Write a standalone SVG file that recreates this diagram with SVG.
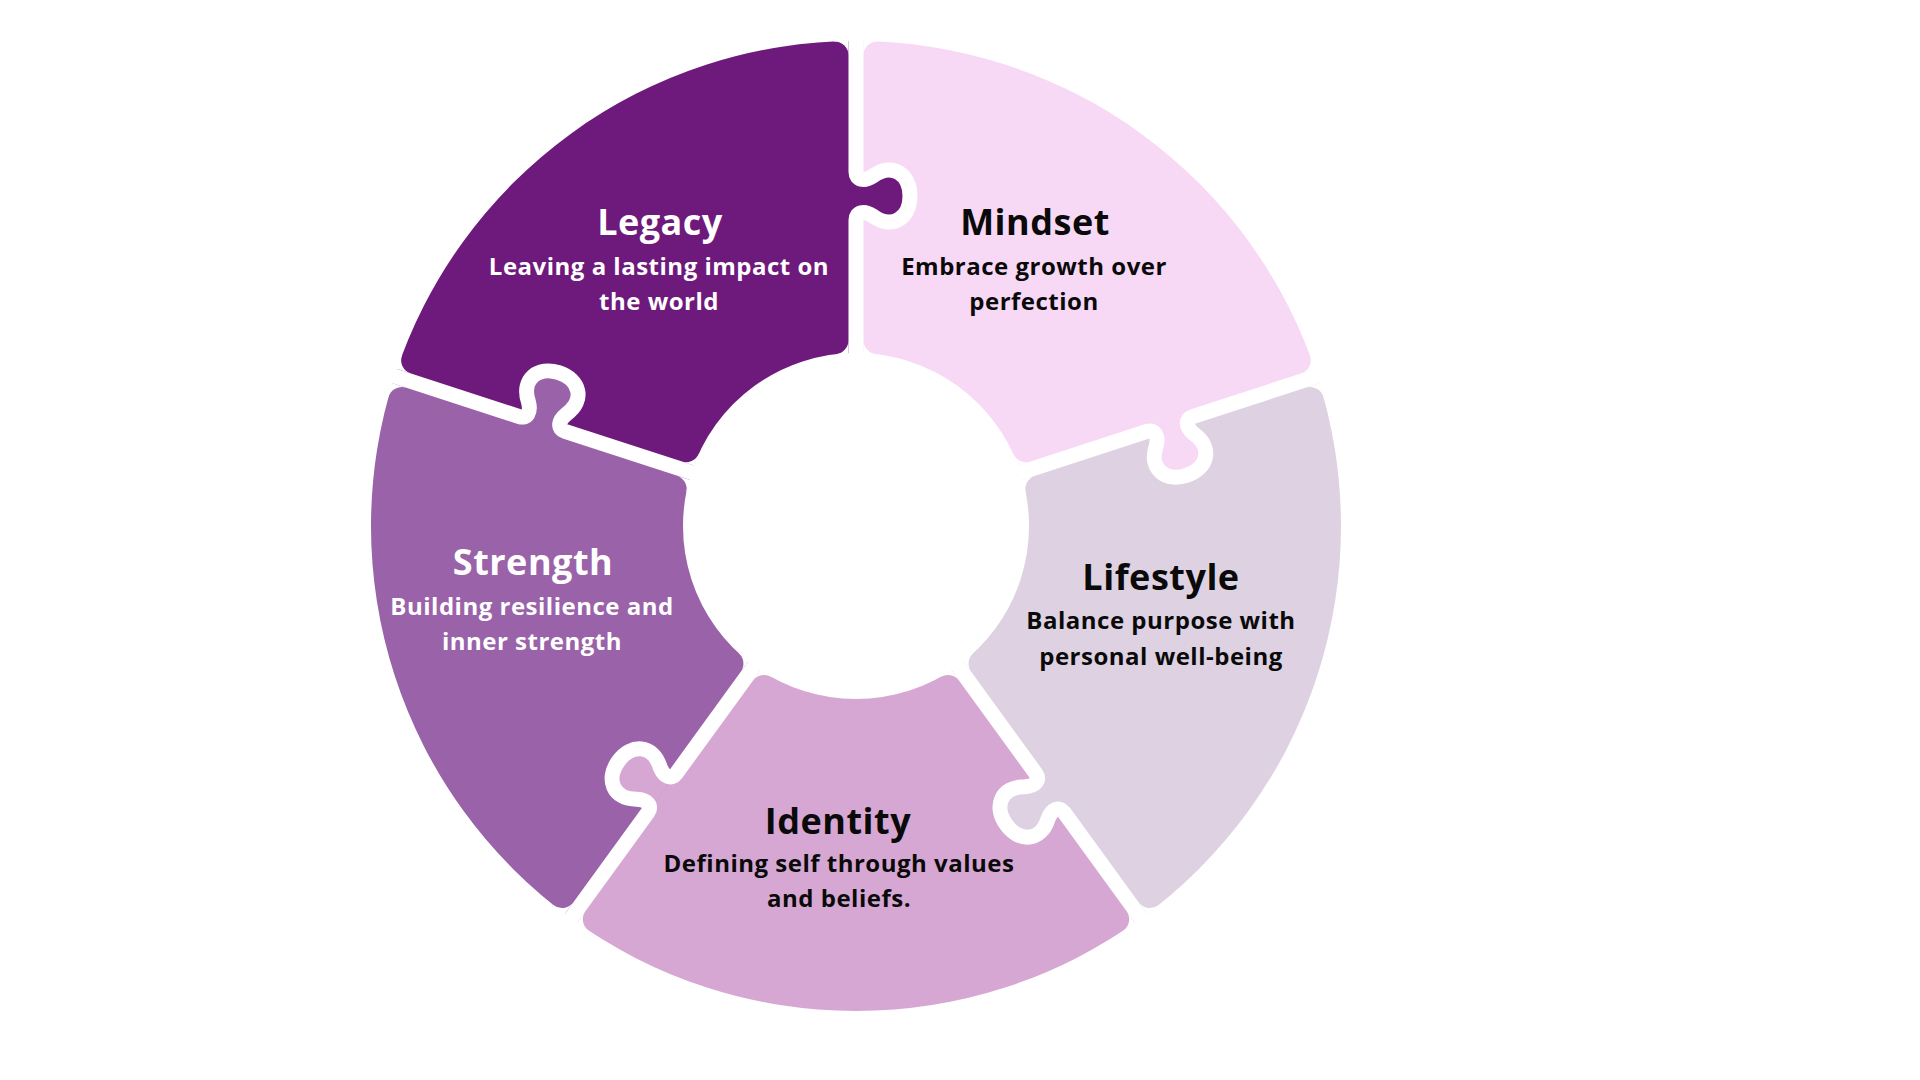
<svg xmlns="http://www.w3.org/2000/svg" xmlns:xlink="http://www.w3.org/1999/xlink" width="1920" height="1080" viewBox="0 0 1920 1080">
  <style>
    .cut { fill: none; stroke: #FFFFFF; stroke-width: 15; stroke-linejoin: round; stroke-linecap: butt; }
    .mask { fill: #FFFFFF; stroke: none; }
    .title { font-family: "Open Sans", Lato, "Liberation Sans", sans-serif; font-weight: 700; font-size: 36px; letter-spacing: 0.5px; text-anchor: middle; }
    .sub { font-family: "Open Sans", Lato, "Liberation Sans", sans-serif; font-weight: 700; font-size: 24px; letter-spacing: 0.5px; text-anchor: middle; }
    .light { fill: #FFFFFF; }
    .dark { fill: #0A0A0A; }
  </style>
  <defs>
    <path id="knob" d="M 0,-306 C 0,-314 8,-316 17,-310 C 36,-296 54,-308 54,-330 C 54,-352 36,-364 17,-350 C 8,-344 0,-346 0,-354 Z"/>
    <path id="gapline" d="M 0,-140 L 0,-306 C 0,-314 8,-316 17,-310 C 36,-296 54,-308 54,-330 C 54,-352 36,-364 17,-350 C 8,-344 0,-346 0,-354 L 0,-505"/>
    <g id="corners">
      <path d="M 7.5,-470.51 L 7.5,-500 L 30,-500 L 22.14,-484.49 A 14 14 0 0 0 7.5,-470.51 Z"/>
      <path d="M -7.5,-470.51 L -7.5,-500 L -30,-500 L -22.14,-484.49 A 14 14 0 0 1 -7.5,-470.51 Z"/>
      <path d="M 7.5,-185.76 A 14 14 0 0 0 19.89,-171.85 L 18,-150 L 7.5,-150 Z"/>
      <path d="M -7.5,-185.76 A 14 14 0 0 1 -19.89,-171.85 L -18,-150 L -7.5,-150 Z"/>
    </g>
  </defs>
  <rect x="0" y="0" width="1920" height="1080" fill="#FFFFFF"/>
  <g transform="translate(856 526)">
    <g id="segments">
      <g id="node-mindset"><path fill="#F7D9F6" d="M 0,-485 A 485 485 0 0 1 461.26,-149.87 L 164.53,-53.46 A 173 173 0 0 0 0,-173 Z"/></g>
      <g id="node-lifestyle"><path fill="#DED2E2" d="M 461.26,-149.87 A 485 485 0 0 1 285.08,392.37 L 101.69,139.96 A 173 173 0 0 0 164.53,-53.46 Z"/></g>
      <g id="node-identity"><path fill="#D6A7D2" d="M 285.08,392.37 A 485 485 0 0 1 -285.08,392.37 L -101.69,139.96 A 173 173 0 0 0 101.69,139.96 Z"/></g>
      <g id="node-strength"><path fill="#9A62A8" d="M -285.08,392.37 A 485 485 0 0 1 -461.26,-149.87 L -164.53,-53.46 A 173 173 0 0 0 -101.69,139.96 Z"/></g>
      <g id="node-legacy"><path fill="#6E1A7C" d="M -461.26,-149.87 A 485 485 0 0 1 0,-485 L 0,-173 A 173 173 0 0 0 -164.53,-53.46 Z"/></g>
    </g>
    <g id="tabs">
      <use xlink:href="#knob" href="#knob" fill="#6E1A7C"/>
      <use xlink:href="#knob" href="#knob" fill="#F7D9F6" transform="rotate(72)"/>
      <use xlink:href="#knob" href="#knob" fill="#DED2E2" transform="rotate(144)"/>
      <use xlink:href="#knob" href="#knob" fill="#D6A7D2" transform="rotate(216)"/>
      <use xlink:href="#knob" href="#knob" fill="#9A62A8" transform="rotate(288)"/>
    </g>
    <g id="separators">
      <use xlink:href="#gapline" href="#gapline" class="cut"/>
      <use xlink:href="#gapline" href="#gapline" class="cut" transform="rotate(72)"/>
      <use xlink:href="#gapline" href="#gapline" class="cut" transform="rotate(144)"/>
      <use xlink:href="#gapline" href="#gapline" class="cut" transform="rotate(216)"/>
      <use xlink:href="#gapline" href="#gapline" class="cut" transform="rotate(288)"/>
    </g>
    <g id="corner-rounding" class="mask">
      <use xlink:href="#corners" href="#corners"/>
      <use xlink:href="#corners" href="#corners" transform="rotate(72)"/>
      <use xlink:href="#corners" href="#corners" transform="rotate(144)"/>
      <use xlink:href="#corners" href="#corners" transform="rotate(216)"/>
      <use xlink:href="#corners" href="#corners" transform="rotate(288)"/>
    </g>
  </g>
  <g id="labels">
    <g id="label-legacy" class="light">
      <text class="title" x="660" y="235">Legacy</text>
      <text class="sub" x="659" y="275">Leaving a lasting impact on</text>
      <text class="sub" x="659" y="310">the world</text>
    </g>
    <g id="label-mindset" class="dark">
      <text class="title" x="1035" y="235">Mindset</text>
      <text class="sub" x="1034" y="275">Embrace growth over</text>
      <text class="sub" x="1034" y="310">perfection</text>
    </g>
    <g id="label-lifestyle" class="dark">
      <text class="title" x="1161" y="590">Lifestyle</text>
      <text class="sub" x="1161" y="629">Balance purpose with</text>
      <text class="sub" x="1161" y="665">personal well-being</text>
    </g>
    <g id="label-identity" class="dark">
      <text class="title" x="838" y="834">Identity</text>
      <text class="sub" x="839" y="872">Defining self through values</text>
      <text class="sub" x="839" y="907">and beliefs.</text>
    </g>
    <g id="label-strength" class="light">
      <text class="title" x="533" y="575">Strength</text>
      <text class="sub" x="532" y="615">Building resilience and</text>
      <text class="sub" x="532" y="650">inner strength</text>
    </g>
  </g>
</svg>
